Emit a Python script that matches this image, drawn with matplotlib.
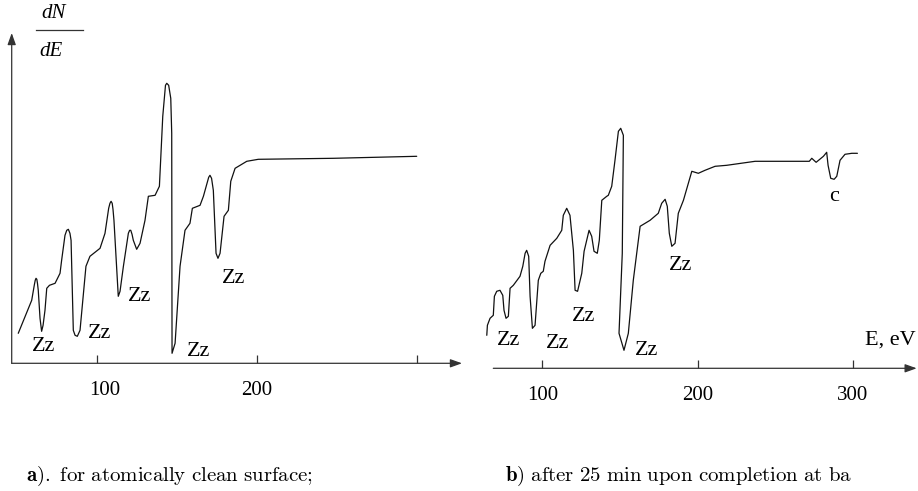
import numpy as np
import matplotlib.pyplot as plt
import matplotlib.transforms as mtransforms
from matplotlib.lines import Line2D

plt.rcParams['mathtext.fontset'] = 'cm'
serif = ['Liberation Serif', 'DejaVu Serif']

# --- data (E in eV, dN/dE in arbitrary units) ---
E_a = [51.0, 59.4, 61.0, 61.6, 62.1, 62.6, 63.0, 63.5, 64.6, 65.6, 66.5, 67.7, 68.8, 70.5,
       74.0, 77.1, 78.1, 80.2, 81.3, 82.3, 83.3, 84.0, 85.4, 86.5, 87.9, 89.6,
       93.3, 95.8, 102.1, 105.2, 107.5, 108.3, 109.0, 109.7, 110.2, 110.8, 113.5, 114.6, 116.7,
       119.8, 120.6, 121.3, 122.1, 122.9, 125.0, 127.1, 130.2, 132.3, 136.5, 139.2, 141.3, 143.0,
       143.8, 145.0, 146.3, 146.9, 147.1, 149.0, 152.1, 155.2, 158.3, 159.8, 164.6,
       166.7, 170.0, 170.8, 171.8, 172.9, 174.6, 175.8, 177.1, 179.6, 182.3, 183.8,
       186.5, 193.8, 201.0, 247.9, 300.0]
I_a = [30, 63, 78, 83, 85, 84, 80, 73, 45, 32, 38, 53, 75, 78,
       80, 90, 103, 128, 133, 134, 130, 123, 33, 28, 27, 33,
       97, 107, 115, 130, 155, 160, 162, 160, 154, 143, 67, 72, 97,
       130, 133, 133, 129, 123, 114, 120, 143, 167, 168, 177, 247, 278,
       280, 278, 265, 230, 10, 20, 97, 133, 140, 155, 158,
       167, 186, 188, 185, 173, 110, 105, 110, 147, 153, 182,
       195, 202, 204, 205, 207]

E_b = [64.2, 64.6, 66.3, 68.4, 69.1, 70.6, 72.7, 74.5, 75.3, 76.6, 78.1, 79.2,
       81.3, 85.6, 87.4, 88.9, 89.9, 91.2, 92.1, 93.6, 95.3, 97.4, 99.0, 100.6,
       101.7, 105.0, 109.3, 112.5, 113.5, 115.7, 117.8, 120.0, 121.1, 122.7, 125.4,
       126.9, 130.1, 131.8, 133.3, 135.4, 136.7, 138.3, 141.5, 142.5, 144.7, 146.8,
       149.0, 150.5, 152.2, 151.5, 149.4, 152.6, 155.4, 158.6, 163.0, 169.4, 174.7,
       176.9, 179.1, 180.5, 181.8, 183.4, 185.5, 187.6, 190.9, 196.3, 200.5, 204.8,
       211.3, 218.8, 237.1, 272.0, 273.6, 276.4, 281.1, 283.2, 284.1, 285.8, 288.0,
       289.7, 291.8, 295.0, 299.4, 303.0]
I_b = [33, 43, 50, 53, 72, 77, 78, 73, 58, 50, 52, 80,
       83, 92, 102, 115, 118, 112, 72, 40, 43, 88, 95, 97,
       107, 123, 130, 138, 153, 160, 153, 118, 78, 77, 95,
       117, 138, 132, 117, 115, 128, 168, 172, 173, 182, 208,
       237, 240, 233, 115, 35, 18, 35, 88, 142, 148, 155,
       165, 169, 162, 135, 122, 125, 155, 168, 197, 195, 198,
       202, 203, 207, 207, 210, 206, 212, 216, 203, 190, 189,
       192, 208, 214, 215, 215]

# peak labels
lab_a_E = [66.7, 102.1, 127.1, 163.5, 185.4]
lab_a_I = [17, 30, 67, 12, 85]
lab_b_E = [78.1, 109.7, 126.4, 167.3, 189.4]
lab_b_I = [28, 25, 52, 18, 103]
c_E, c_I = 287.9, 172

ticks = [100, 200, 300]

W, H = 918, 491
fig = plt.figure(figsize=(W / 100, H / 100), dpi=100)
axcol = '#333333'
curve = dict(color='#111111', lw=0.9, clip_on=False,
             solid_joinstyle='round', solid_capstyle='round')

def axes_px(x0, x1, y_axis, y_top):
    return fig.add_axes([x0 / W, (H - y_axis) / H, (x1 - x0) / W, (y_axis - y_top) / H])

def setup(ax, labels):
    for s in ax.spines.values():
        s.set_visible(False)
    ax.set_yticks([])
    ax.set_xticks(ticks, labels)
    ax.tick_params(axis='x', direction='in', length=6, width=0.9, color=axcol, pad=13)
    for t in ax.get_xticklabels():
        t.set_family(serif)
        t.set_fontsize(15)
    ax.patch.set_alpha(0)

arrow = dict(arrowstyle='-|>,head_length=0.7,head_width=0.25', lw=0.9,
             color=axcol, shrinkA=0, shrinkB=0)

# ----- panel a -----
ax1 = axes_px(11.7, 462, 363.3, 33)
ax1.set_xlim(46.9, 328.3)
ax1.set_ylim(0, 330.3)
setup(ax1, ['100', '200', ''])
# the "100" label sits a little right of its tick in the original
lab100 = ax1.get_xticklabels()[0]
lab100.set_transform(lab100.get_transform() +
                     mtransforms.ScaledTranslation(8 / 100, 0, fig.dpi_scale_trans))
ax1.annotate('', xy=(1, 0), xytext=(0, 0), xycoords='axes fraction', arrowprops=arrow)
ax1.annotate('', xy=(0, 1), xytext=(0, 0), xycoords='axes fraction', arrowprops=arrow)
ax1.plot(E_a, I_a, **curve)
for e, i in zip(lab_a_E, lab_a_I):
    ax1.text(e, i, 'Zz', family=serif, fontsize=16, ha='center', va='center')

# ----- panel b -----
ax2 = axes_px(493.3, 916.7, 368.3, 100)
ax2.set_xlim(68.4, 341.2)
ax2.set_ylim(0, 268.3)
setup(ax2, ['100', '200', '300'])
ax2.annotate('', xy=(1, 0), xytext=(0, 0), xycoords='axes fraction', arrowprops=arrow)
ax2.plot(E_b, I_b, **curve)
for e, i in zip(lab_b_E, lab_b_I):
    ax2.text(e, i, 'Zz', family=serif, fontsize=16, ha='center', va='center')
ax2.text(c_E, c_I, 'c', family=serif, fontsize=16, ha='center', va='center')
fig.text(916 / W, 1 - 340 / H, 'E, eV', family=serif, fontsize=16, ha='right', va='center')

# dN/dE label
fig.text(54 / W, 1 - 13 / H, 'dN', family=serif, style='italic', fontsize=15,
         ha='center', va='center')
fig.text(51 / W, 1 - 52 / H, 'dE', family=serif, style='italic', fontsize=15,
         ha='center', va='center')
fig.add_artist(Line2D([36 / W, 83 / W], [1 - 30 / H, 1 - 30 / H], color=axcol, lw=0.9))

# captions
fig.text(26 / W, 1 - 476 / H, r'$\mathbf{a).}\ \mathrm{for\ atomically\ clean\ surface;}$',
         fontsize=15, ha='left', va='center')
fig.text(505 / W, 1 - 476 / H, r'$\mathbf{b)}\ \mathrm{after\ 25\ min\ upon\ completion\ at\ ba}$',
         fontsize=15, ha='left', va='center')

fig.savefig('out.png', dpi=100)
